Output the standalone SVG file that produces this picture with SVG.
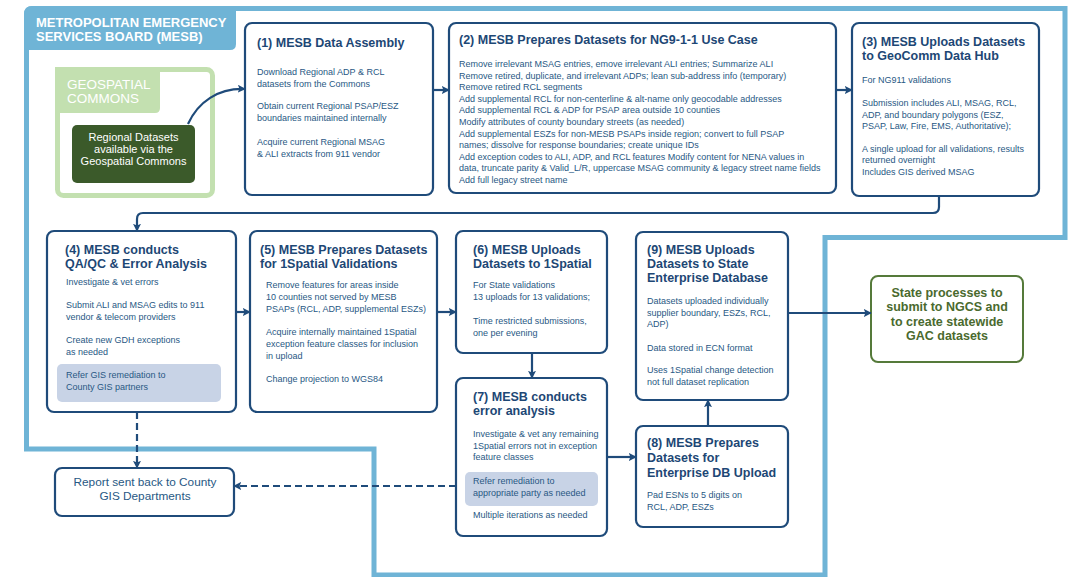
<svg xmlns="http://www.w3.org/2000/svg" width="1086" height="577" viewBox="0 0 1086 577">
<defs>
<marker id="ah" viewBox="0 0 10 10" refX="9" refY="5" markerWidth="8" markerHeight="8" markerUnits="userSpaceOnUse" orient="auto">
<path d="M0,0 L10,5 L0,10 L2,5 Z" fill="#1f4b7a"/>
</marker>
</defs>
<style>
.box{fill:#fff;stroke:#1f4b7a;stroke-width:2.2}
.shade{fill:#c8d3e6}
.t{font-family:"Liberation Sans",Arial,sans-serif;font-weight:bold;font-size:12.5px;fill:#1d4775}
.b{font-family:"Liberation Sans",Arial,sans-serif;font-size:9px;fill:#285884}
.c{fill:none;stroke:#1f4b7a;stroke-width:2.2;marker-end:url(#ah)}
.d{fill:none;stroke:#1f4b7a;stroke-width:2.2;stroke-dasharray:7 4;marker-end:url(#ah)}
</style>
<rect width="1086" height="577" fill="#fff"/>
<g id="mesb-region">
<path d="M26.5 449 L26.5 15 Q26.5 8.5 33 8.5 L1065 8.5 L1065 237.5 L825 237.5 L825 575 L374 575 L374 449 Z" fill="none" stroke="#6fb4d6" stroke-width="5"/>
<path d="M24 50 L24 14 Q24 6 32 6 L236 6 L236 44 Q236 50 230 50 Z" fill="#6fb4d6"/>
<text x="36" y="27" font-family="Liberation Sans,Arial,sans-serif" font-weight="bold" font-size="13" fill="#fff">METROPOLITAN EMERGENCY</text>
<text x="36" y="41" font-family="Liberation Sans,Arial,sans-serif" font-weight="bold" font-size="13" fill="#fff">SERVICES BOARD (MESB)</text>
</g>
<g id="geospatial-commons">
<rect x="57.5" y="69.5" width="155" height="126" rx="6" fill="#fff" stroke="#c3e0b0" stroke-width="5"/>
<path d="M55 67 L160 67 L160 108 Q160 113 155 113 L55 113 Z" fill="#c3e0b0"/>
<text x="67" y="89" font-family="Liberation Sans,Arial,sans-serif" font-size="13.5" fill="#fff">GEOSPATIAL</text>
<text x="67" y="103" font-family="Liberation Sans,Arial,sans-serif" font-size="13.5" fill="#fff">COMMONS</text>
</g>
<g id="regional-datasets">
<rect x="72" y="125" width="123" height="58" rx="5" fill="#3b5a2a"/>
<text x="133.5" y="141" text-anchor="middle" font-family="Liberation Sans,Arial,sans-serif" font-size="11" fill="#fff">Regional Datasets</text>
<text x="133.5" y="153" text-anchor="middle" font-family="Liberation Sans,Arial,sans-serif" font-size="11" fill="#fff">available via the</text>
<text x="133.5" y="165" text-anchor="middle" font-family="Liberation Sans,Arial,sans-serif" font-size="11" fill="#fff">Geospatial Commons</text>
</g>
<g id="box1">
<rect class="box" x="245" y="23" width="188" height="172" rx="7"/>
<text class="t" x="257" y="47">(1) MESB Data Assembly</text>
<text class="b" x="257" y="75">Download Regional ADP &amp; RCL</text>
<text class="b" x="257" y="86.5">datasets from the Commons</text>
<text class="b" x="257" y="109">Obtain current Regional PSAP/ESZ</text>
<text class="b" x="257" y="120.5">boundaries maintained internally</text>
<text class="b" x="257" y="145">Acquire current Regional MSAG</text>
<text class="b" x="257" y="156.5">&amp; ALI extracts from 911 vendor</text>
</g>
<g id="box2">
<rect class="box" x="449" y="23" width="387" height="170" rx="7"/>
<text class="t" x="459" y="44">(2) MESB Prepares Datasets for NG9-1-1 Use Case</text>
<text class="b" x="459" y="67">Remove irrelevant MSAG entries, emove irrelevant ALI entries; Summarize ALI</text>
<text class="b" x="459" y="78.6">Remove retired, duplicate, and irrelevant ADPs; lean sub-address info (temporary)</text>
<text class="b" x="459" y="90.2">Remove retired RCL segments</text>
<text class="b" x="459" y="101.8">Add supplemental RCL for non-centerline &amp; alt-name only geocodable addresses</text>
<text class="b" x="459" y="113.4">Add supplemental RCL &amp; ADP for PSAP area outside 10 counties</text>
<text class="b" x="459" y="125">Modify attributes of county boundary streets (as needed)</text>
<text class="b" x="459" y="136.6">Add supplemental ESZs for non-MESB PSAPs inside region; convert to full PSAP</text>
<text class="b" x="459" y="148.2">names; dissolve for response boundaries; create unique IDs</text>
<text class="b" x="459" y="159.8">Add exception codes to ALI, ADP, and RCL features Modify content for NENA values in</text>
<text class="b" x="459" y="171.4">data, truncate parity &amp; Valid_L/R, uppercase MSAG community &amp; legacy street name fields</text>
<text class="b" x="459" y="183">Add full legacy street name</text>
</g>
<g id="box3">
<rect class="box" x="852" y="23" width="187" height="173" rx="7"/>
<text class="t" x="862" y="46">(3) MESB Uploads Datasets</text>
<text class="t" x="862" y="60">to GeoComm Data Hub</text>
<text class="b" x="862" y="83">For NG911 validations</text>
<text class="b" x="862" y="106">Submission includes ALI, MSAG, RCL,</text>
<text class="b" x="862" y="117.5">ADP, and boundary polygons (ESZ,</text>
<text class="b" x="862" y="129">PSAP, Law, Fire, EMS, Authoritative);</text>
<text class="b" x="862" y="151.5">A single upload for all validations, results</text>
<text class="b" x="862" y="163">returned overnight</text>
<text class="b" x="862" y="174.5">Includes GIS derived MSAG</text>
</g>
<g id="box4">
<rect class="box" x="47" y="231" width="189" height="181" rx="7"/>
<text class="t" x="65" y="254">(4) MESB conducts</text>
<text class="t" x="65" y="268">QA/QC &amp; Error Analysis</text>
<text class="b" x="66" y="285">Investigate &amp; vet errors</text>
<text class="b" x="66" y="308">Submit ALI and MSAG edits to 911</text>
<text class="b" x="66" y="320">vendor &amp; telecom providers</text>
<text class="b" x="66" y="343">Create new GDH exceptions</text>
<text class="b" x="66" y="355">as needed</text>
<rect class="shade" x="57" y="364" width="164" height="38" rx="5"/>
<text class="b" x="66" y="378">Refer GIS remediation to</text>
<text class="b" x="66" y="390">County GIS partners</text>
</g>
<g id="box5">
<rect class="box" x="250" y="231" width="187" height="181" rx="7"/>
<text class="t" x="260" y="254">(5) MESB Prepares Datasets</text>
<text class="t" x="260" y="268">for 1Spatial Validations</text>
<text class="b" x="266" y="288">Remove features for areas inside</text>
<text class="b" x="266" y="300">10 counties not served by MESB</text>
<text class="b" x="266" y="312">PSAPs (RCL, ADP, supplemental ESZs)</text>
<text class="b" x="266" y="335">Acquire internally maintained 1Spatial</text>
<text class="b" x="266" y="347">exception feature classes for inclusion</text>
<text class="b" x="266" y="358.5">in upload</text>
<text class="b" x="266" y="382">Change projection to WGS84</text>
</g>
<g id="box6">
<rect class="box" x="456" y="231" width="151" height="122" rx="7"/>
<text class="t" x="473" y="254">(6) MESB Uploads</text>
<text class="t" x="473" y="268">Datasets to 1Spatial</text>
<text class="b" x="473" y="288">For State validations</text>
<text class="b" x="473" y="300">13 uploads for 13 validations;</text>
<text class="b" x="473" y="324">Time restricted submissions,</text>
<text class="b" x="473" y="336">one per evening</text>
</g>
<g id="box7">
<rect class="box" x="456" y="378" width="151" height="158" rx="7"/>
<text class="t" x="473" y="401">(7) MESB conducts</text>
<text class="t" x="473" y="415">error analysis</text>
<text class="b" x="473" y="437">Investigate &amp; vet any remaining</text>
<text class="b" x="473" y="449">1Spatial errors not in exception</text>
<text class="b" x="473" y="460">feature classes</text>
<rect class="shade" x="465" y="472" width="133" height="34" rx="5"/>
<text class="b" x="473" y="483.5">Refer remediation to</text>
<text class="b" x="473" y="495.5">appropriate party as needed</text>
<text class="b" x="473" y="518">Multiple iterations as needed</text>
</g>
<g id="box8">
<rect class="box" x="636" y="426" width="152" height="101" rx="7"/>
<text class="t" x="647" y="447">(8) MESB Prepares</text>
<text class="t" x="647" y="462">Datasets for</text>
<text class="t" x="647" y="477">Enterprise DB Upload</text>
<text class="b" x="647" y="498">Pad ESNs to 5 digits on</text>
<text class="b" x="647" y="509.5">RCL, ADP, ESZs</text>
</g>
<g id="box9">
<rect class="box" x="636" y="232" width="152" height="168" rx="7"/>
<text class="t" x="647" y="254">(9) MESB Uploads</text>
<text class="t" x="647" y="268">Datasets to State</text>
<text class="t" x="647" y="282">Enterprise Database</text>
<text class="b" x="647" y="304">Datasets uploaded individually</text>
<text class="b" x="647" y="316">supplier boundary, ESZs, RCL,</text>
<text class="b" x="647" y="327">ADP)</text>
<text class="b" x="647" y="351">Data stored in ECN format</text>
<text class="b" x="647" y="373">Uses 1Spatial change detection</text>
<text class="b" x="647" y="385">not full dataset replication</text>
</g>
<g id="state">
<rect x="871" y="276" width="152" height="86" rx="7" fill="#fff" stroke="#557a3a" stroke-width="2"/>
<text x="947" y="297" text-anchor="middle" font-family="Liberation Sans,Arial,sans-serif" font-weight="bold" font-size="12.5" fill="#4a6a2e">State processes to</text>
<text x="947" y="311" text-anchor="middle" font-family="Liberation Sans,Arial,sans-serif" font-weight="bold" font-size="12.5" fill="#4a6a2e">submit to NGCS and</text>
<text x="947" y="326" text-anchor="middle" font-family="Liberation Sans,Arial,sans-serif" font-weight="bold" font-size="12.5" fill="#4a6a2e">to create statewide</text>
<text x="947" y="340" text-anchor="middle" font-family="Liberation Sans,Arial,sans-serif" font-weight="bold" font-size="12.5" fill="#4a6a2e">GAC datasets</text>
</g>
<g id="report">
<rect class="box" x="55" y="468" width="179" height="48" rx="7"/>
<text x="145" y="486" text-anchor="middle" font-family="Liberation Sans,Arial,sans-serif" font-size="11.8" fill="#285884">Report sent back to County</text>
<text x="145" y="500" text-anchor="middle" font-family="Liberation Sans,Arial,sans-serif" font-size="11.8" fill="#285884">GIS Departments</text>
</g>
<g id="connectors">
<path class="c" d="M188 124 C198 102 218 88 245 89"/>
<path class="c" d="M433 90 H449"/>
<path class="c" d="M836 90 H852"/>
<path class="c" d="M939 196 V207 Q939 213 933 213 H143 Q137 213 137 219 V231"/>
<path class="c" d="M236 312 H250"/>
<path class="c" d="M437 312 H456"/>
<path class="c" d="M532 353 V378"/>
<path class="c" d="M607 457 H636"/>
<path class="c" d="M708 426 V400"/>
<path class="c" d="M788 313 H871"/>
<path class="d" d="M137 412 V468"/>
<path class="d" d="M456 486 H234"/>
</g>
</svg>
